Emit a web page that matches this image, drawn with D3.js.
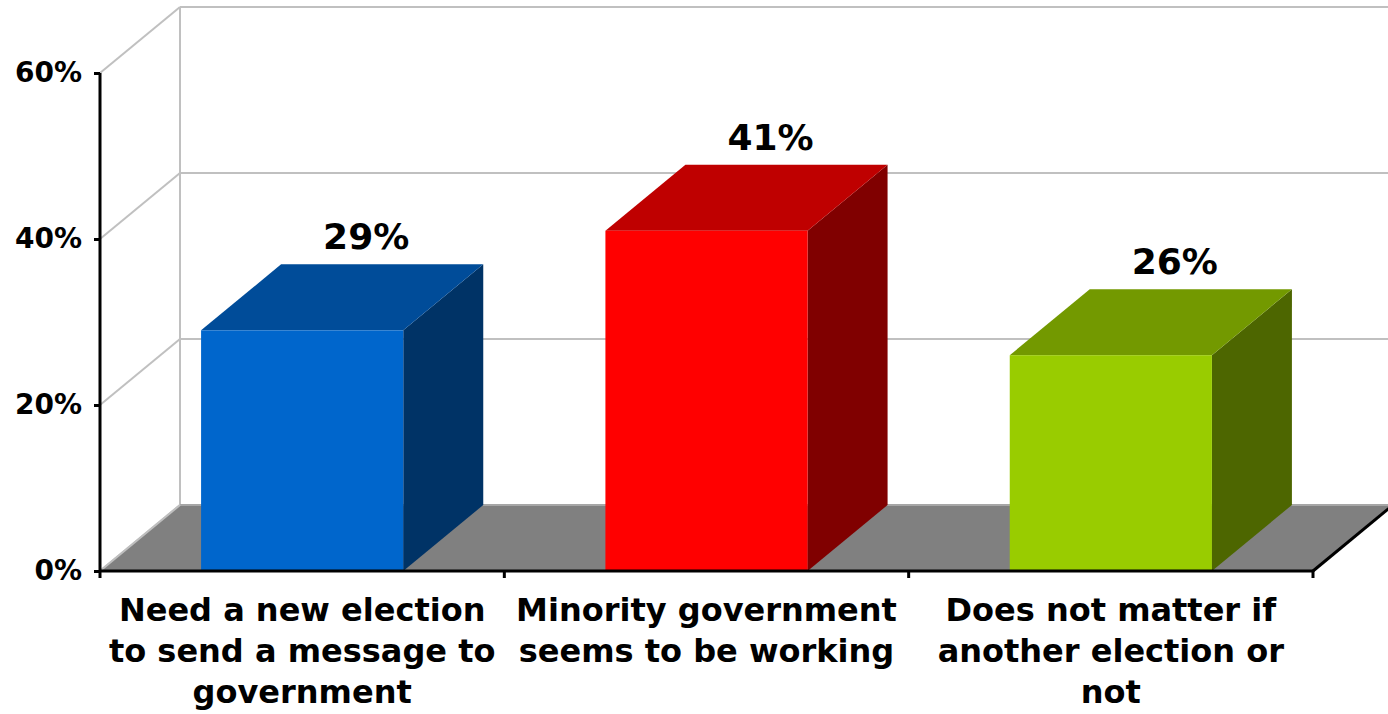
<!DOCTYPE html>
<html><head><meta charset="utf-8">
<script src="https://cdn.jsdelivr.net/npm/d3@7"></script>
<style>
html,body{margin:0;padding:0;background:#fff;overflow:hidden;}
svg{display:block;}
text{font-family:"DejaVu Sans",sans-serif;font-weight:bold;fill:#000;}
</style></head>
<body>
<svg id="chart" width="1388" height="714"></svg>
<script>
const categories = [
  ["Need a new election","to send a message to","government"],
  ["Minority government","seems to be working"],
  ["Does not matter if","another election or","not"]
];
const values = [0.29, 0.41, 0.26];
const valueLabels = ["29%","41%","26%"];
const yTicks = [0, 0.2, 0.4, 0.6];
const frontColors = ["#0066CC","#FF0000","#99CC00"];
const topColors   = ["#004C99","#BF0000","#739900"];
const sideColors  = ["#003366","#800000","#4D6600"];

const svg = d3.select("#chart");
const W = 1388, H = 714;
const x0 = 100, x1 = 1313, yBase = 571, yTop = 73;
const DX = 80, DY = -66;

const y = d3.scaleLinear().domain([0, 0.6]).range([yBase, yTop]);
const x = d3.scaleBand().domain(d3.range(categories.length)).range([x0, x1])
  .paddingInner(0.5).paddingOuter(0.25);

const grid = "#C0C0C0";
// back wall gridlines
const gBack = svg.append("g");
yTicks.forEach(t => {
  if (t > 0) {
    gBack.append("line").attr("x1", x0 + DX).attr("x2", W + 10)
      .attr("y1", y(t) + DY).attr("y2", y(t) + DY)
      .attr("stroke", grid).attr("stroke-width", 2);
  }
  // left side wall diagonals
  gBack.append("line").attr("x1", x0).attr("y1", y(t))
    .attr("x2", x0 + DX).attr("y2", y(t) + DY)
    .attr("stroke", grid).attr("stroke-width", 2);
});
// back wall left vertical edge
gBack.append("line").attr("x1", x0 + DX).attr("x2", x0 + DX)
  .attr("y1", y(0.6) + DY).attr("y2", y(0) + DY)
  .attr("stroke", grid).attr("stroke-width", 2);

// floor
svg.append("polygon")
  .attr("points", [[x0, y(0)], [x1, y(0)], [x1 + DX, y(0) + DY], [x0 + DX, y(0) + DY]].map(p => p.join(",")).join(" "))
  .attr("fill", "#808080");
svg.append("line").attr("x1", x0 + DX).attr("x2", W + 10)
  .attr("y1", y(0) + DY).attr("y2", y(0) + DY)
  .attr("stroke", "#A6A6A6").attr("stroke-width", 2);
svg.append("line").attr("x1", x0).attr("y1", y(0))
  .attr("x2", x0 + DX).attr("y2", y(0) + DY)
  .attr("stroke", "#BFBFBF").attr("stroke-width", 2);

// bars
const bars = svg.append("g");
values.forEach((v, i) => {
  const bx = x(i), bw = x.bandwidth(), yt = y(v), yb = y(0);
  const g = bars.append("g");
  g.append("polygon").attr("points", [[bx + bw, yb], [bx + bw + DX, yb + DY], [bx + bw + DX, yt + DY], [bx + bw, yt]].map(p => p.join(",")).join(" "))
    .attr("fill", sideColors[i]);
  g.append("polygon").attr("points", [[bx, yt], [bx + DX, yt + DY], [bx + bw + DX, yt + DY], [bx + bw, yt]].map(p => p.join(",")).join(" "))
    .attr("fill", topColors[i]);
  g.append("rect").attr("x", bx).attr("y", yt).attr("width", bw).attr("height", yb - yt)
    .attr("fill", frontColors[i]);
  svg.append("text").attr("x", bx + bw / 2 + 64).attr("y", yt + DY - 15)
    .attr("text-anchor", "middle").attr("font-size", 36).text(valueLabels[i]);
});

// y axis
const yAxis = d3.axisLeft(y).tickValues(yTicks).tickFormat(d3.format(".0%"))
  .tickSize(6).tickPadding(12);
const ga = svg.append("g").attr("transform", `translate(${x0},0)`).call(yAxis);
ga.select(".domain").attr("stroke", "#000").attr("stroke-width", 3)
  .attr("d", `M0,${yTop}V${yBase}`);
ga.selectAll(".tick line").attr("stroke", "#000").attr("stroke-width", 3);
ga.selectAll(".tick text").attr("font-size", 28).attr("font-family", '"DejaVu Sans",sans-serif')
  .attr("font-weight", "bold").attr("fill", "#000");

// x axis
const bounds = d3.range(categories.length + 1).map(i => x0 + i * (x1 - x0) / categories.length);
const gx = svg.append("g");
gx.append("line").attr("x1", x0).attr("x2", x1).attr("y1", yBase).attr("y2", yBase)
  .attr("stroke", "#000").attr("stroke-width", 3);
bounds.forEach(b => {
  gx.append("line").attr("x1", b).attr("x2", b).attr("y1", yBase).attr("y2", yBase + 7)
    .attr("stroke", "#000").attr("stroke-width", 3);
});
gx.append("line").attr("x1", x1).attr("y1", yBase).attr("x2", x1 + DX).attr("y2", yBase + DY)
  .attr("stroke", "#000").attr("stroke-width", 3);

// category labels
categories.forEach((lines, i) => {
  const cx = x(i) + x.bandwidth() / 2;
  const t = svg.append("text").attr("text-anchor", "middle").attr("font-size", 32);
  lines.forEach((ln, k) => {
    t.append("tspan").attr("x", cx).attr("y", 621 + k * 41).text(ln);
  });
});
</script>
</body></html>
